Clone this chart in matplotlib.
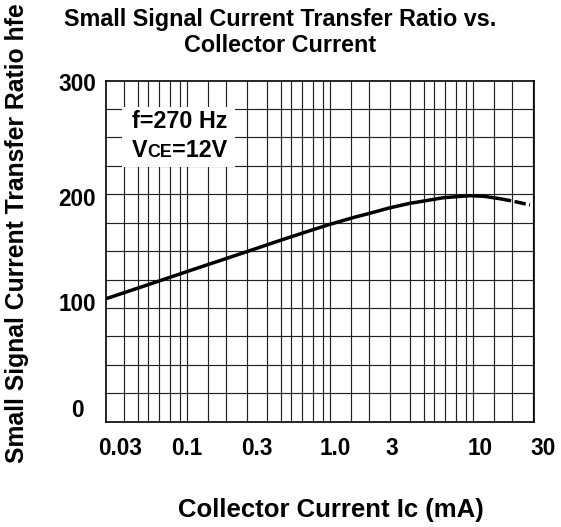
import matplotlib
matplotlib.use("Agg")
import matplotlib.pyplot as plt
from matplotlib.patches import Rectangle

plt.rcParams['font.family'] = ['Liberation Sans', 'DejaVu Sans']
plt.rcParams['font.weight'] = 'bold'

# ---- data ----
ic_solid = [0.027, 0.05, 0.1, 0.2, 0.3, 0.45, 0.7, 1.0, 1.5, 1.9, 2.6, 3.6, 5.0, 6.2, 9.5, 12.0, 15.4]
hfe_solid = [108, 119.2, 132, 144.6, 152, 159.5, 167.4, 173.6, 180, 183.3, 188, 192, 195, 197, 198.8, 198.2, 196.1]
ic_dash = [15.4, 19.0, 25.0]
hfe_dash = [196.1, 194.0, 190.6]

x_tick_labels = ['0.03', '0.1', '0.3', '1.0', '3', '10', '30']
x_label_pos = [0.034, 0.1, 0.31, 1.08, 2.7, 11.2, 31.0]
y_tick_labels = ['0', '100', '200', '300']
y_label_base = [3.7, 97.5, 190.0, 291.3]

grid_decades = [0.01, 0.1, 1.0, 10.0]
grid_mults = [1.0, 1.406, 1.875, 2.63, 3.606, 4.53, 5.36, 6.38, 7.57, 8.95]
y_grid = list(range(25, 300, 25))

xlim = (0.027, 26.8)
ylim = (0, 300)

W, H = 561, 527
fig = plt.figure(figsize=(W / 100, H / 100), dpi=100)
ax = fig.add_axes([105.7 / W, 1 - 421.5 / H, 428.6 / W, 340.8 / H])
ax.set_xscale('log')
ax.set_xlim(*xlim)
ax.set_ylim(*ylim)

for d in grid_decades:
    for m in grid_mults:
        v = d * m
        if xlim[0] < v < xlim[1]:
            ax.axvline(v, color='#222222', lw=0.85, zorder=1)
for v in y_grid:
    ax.axhline(v, color='#222222', lw=0.85, zorder=1)

ax.plot(ic_solid, hfe_solid, color='black', lw=2.5, solid_capstyle='butt',
        solid_joinstyle='round', zorder=3)
ax.plot(ic_dash, hfe_dash, color='black', lw=2.5, linestyle=(0, (3.3, 1.0)),
        dash_capstyle='butt', zorder=3)

for s in ax.spines.values():
    s.set_linewidth(1.2)
    s.set_color('black')

ax.set_xticks([])
ax.set_xticks([], minor=True)
ax.set_yticks([])
ax.set_yticks([], minor=True)

xt = ax.get_xaxis_transform()
for lab, pos in zip(x_tick_labels, x_label_pos):
    ax.text(pos, -0.0983, lab, transform=xt, ha='center', va='baseline',
            fontsize=16.3, fontweight='bold', clip_on=False)

yt = ax.get_yaxis_transform()
for lab, pos in zip(y_tick_labels, y_label_base):
    ax.text(-0.067, pos, lab, transform=yt, ha='center', va='baseline',
            fontsize=16.3, fontweight='bold', clip_on=False)

# annotation box
ax.add_patch(Rectangle((0.038, 0.748), 0.2637, 0.175, transform=ax.transAxes,
                       facecolor='white', edgecolor='none', zorder=4))
ax.text(0.0614, 0.8603, 'f=270 Hz', transform=ax.transAxes, ha='left', va='baseline',
        fontsize=16.8, fontweight='bold', zorder=5)
tV = ax.text(0.0614, 0.777, 'V', transform=ax.transAxes, ha='left', va='baseline',
             fontsize=16.8, fontweight='bold', zorder=5)
tCE = ax.annotate('CE', xy=(1, 0.777), xycoords=(tV, 'axes fraction'),
                  ha='left', va='baseline', fontsize=12.8, fontweight='bold', zorder=5)
ax.annotate('=12V', xy=(1, 0.777), xycoords=(tCE, 'axes fraction'),
            ha='left', va='baseline', fontsize=16.8, fontweight='bold', zorder=5)

# titles and axis labels
fig.text(280.5 / W, 1 - 26 / H, 'Small Signal Current Transfer Ratio vs.',
         ha='center', va='baseline', fontsize=16.8, fontweight='bold')
fig.text(280.5 / W, 1 - 51.7 / H, 'Collector Current',
         ha='center', va='baseline', fontsize=16.8, fontweight='bold')
fig.text(331 / W, 1 - 516.7 / H, 'Collector Current Ic (mA)',
         ha='center', va='baseline', fontsize=18.5, fontweight='bold')
fig.text(17 / W, 1 - 233 / H, 'Small Signal Current Transfer Ratio hfe',
         ha='center', va='center', rotation=90, fontsize=17.8, fontweight='bold')

fig.savefig('out.png', dpi=100, facecolor='white')
